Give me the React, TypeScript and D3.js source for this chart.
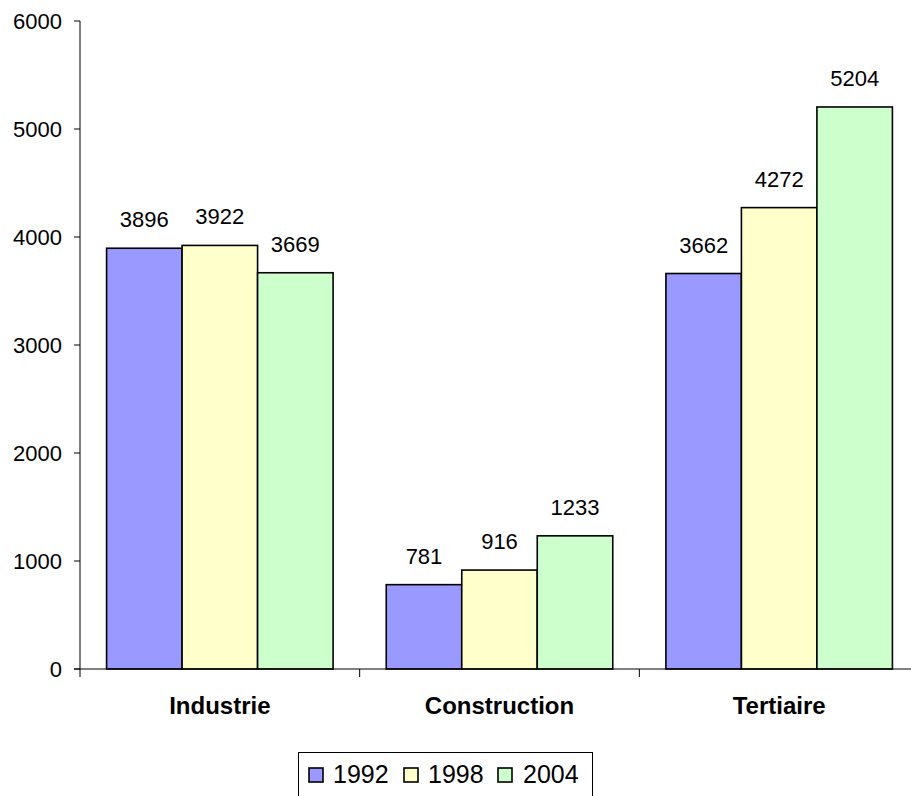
import React from "react";
import * as d3 from "d3";

const categories = ["Industrie", "Construction", "Tertiaire"];
const seriesNames = ["1992", "1998", "2004"];
const values1992 = [3896, 781, 3662];
const values1998 = [3922, 916, 4272];
const values2004 = [3669, 1233, 5204];
const yTicks = [0, 1000, 2000, 3000, 4000, 5000, 6000];
const colors = ["#9999FF", "#FFFFCC", "#CCFFCC"];

const W = 911;
const H = 796;
const FONT = "'Liberation Sans', Arial, Helvetica, sans-serif";

export default function App() {
  const series = [values1992, values1998, values2004];
  const x0 = 80;
  const x1 = 919;
  const y = d3.scaleLinear().domain([0, 6000]).range([669, 21]);
  const xCat = d3.scaleBand<string>().domain(categories).range([x0, x1]).paddingInner(0).paddingOuter(0);
  const xSer = d3
    .scaleBand<string>()
    .domain(seriesNames)
    .range([0, xCat.bandwidth()])
    .paddingInner(0)
    .paddingOuter(0.352);

  const boundaries = [x0, ...categories.map((c) => (xCat(c) as number) + xCat.bandwidth())];

  // legend layout
  const legendItemX = [309, 404, 498];
  const legendTextX = [333, 428, 523];

  return (
    <svg
      width={W}
      height={H}
      style={{ position: "absolute", left: 0, top: 0, background: "#fff" }}
      fontFamily={FONT}
    >
      <rect x={0} y={0} width={W} height={H} fill="#fff" />
      {/* bars */}
      {categories.map((c, ci) =>
        seriesNames.map((s, si) => {
          const v = series[si][ci];
          const bx = (xCat(c) as number) + (xSer(s) as number);
          const bw = xSer.bandwidth();
          return (
            <g key={c + s}>
              <rect
                x={bx}
                y={y(v)}
                width={bw}
                height={y(0) - y(v)}
                fill={colors[si]}
                stroke="#000"
                strokeWidth={1.6}
              />
              <text
                x={bx + bw / 2}
                y={y(v) - 21}
                textAnchor="middle"
                fontSize={22}
                fill="#000"
              >
                {v}
              </text>
            </g>
          );
        })
      )}
      {/* y axis */}
      <line x1={x0} x2={x0} y1={y(6000)} y2={y(0)} stroke="#000" strokeWidth={1} />
      {yTicks.map((t) => (
        <g key={t}>
          <line x1={x0 - 6} x2={x0} y1={y(t)} y2={y(t)} stroke="#000" strokeWidth={1} />
          <text x={62} y={y(t)} dy="0.36em" textAnchor="end" fontSize={22} fill="#000">
            {t}
          </text>
        </g>
      ))}
      {/* x axis */}
      <line x1={x0 - 6} x2={x1} y1={y(0)} y2={y(0)} stroke="#000" strokeWidth={1} />
      {boundaries.map((bx, i) => (
        <line key={i} x1={bx} x2={bx} y1={y(0)} y2={y(0) + 8} stroke="#000" strokeWidth={1} />
      ))}
      {categories.map((c) => (
        <text
          key={c}
          x={(xCat(c) as number) + xCat.bandwidth() / 2}
          y={714}
          textAnchor="middle"
          fontSize={24}
          fontWeight="bold"
          fill="#000"
        >
          {c}
        </text>
      ))}
      {/* legend */}
      <rect x={298.5} y={752.5} width={294} height={50} fill="#fff" stroke="#000" strokeWidth={1} />
      {seriesNames.map((s, i) => (
        <g key={s}>
          <rect
            x={legendItemX[i]}
            y={768}
            width={14}
            height={14}
            fill={colors[i]}
            stroke="#000"
            strokeWidth={1.6}
          />
          <text x={legendTextX[i]} y={783} fontSize={25} fill="#000">
            {s}
          </text>
        </g>
      ))}
    </svg>
  );
}
